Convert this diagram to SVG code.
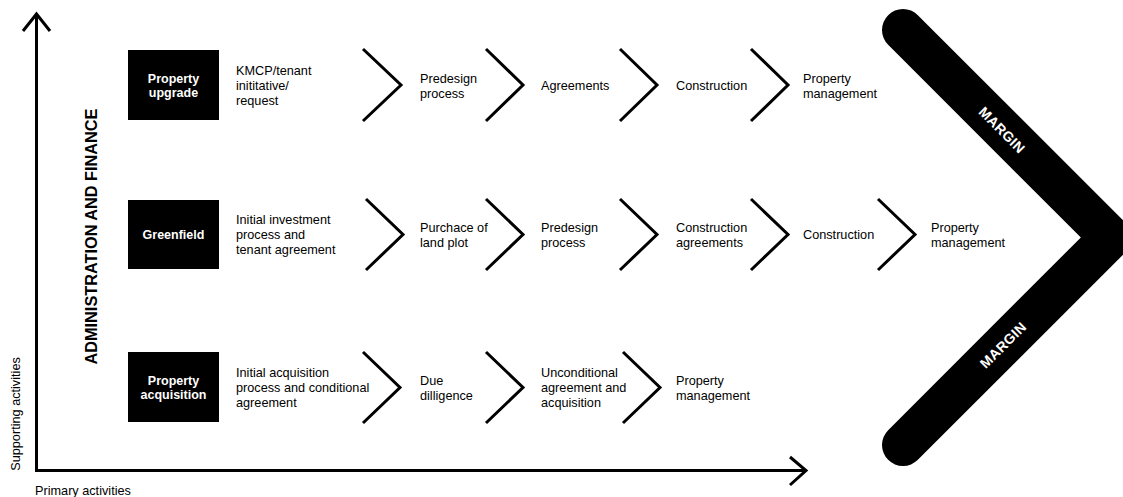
<svg xmlns="http://www.w3.org/2000/svg" width="1123" height="497" viewBox="0 0 1123 497">
<style>
.t{font-family:"Liberation Sans",Arial,sans-serif;font-size:12.7px;fill:#000}
.bt{font-family:"Liberation Sans",Arial,sans-serif;font-size:12.5px;font-weight:bold;fill:#fff;text-anchor:middle}
.box{fill:#000}
.chev{fill:none;stroke:#000;stroke-width:3}
.axis{fill:none;stroke:#000;stroke-width:3}
.mg{font-family:"Liberation Sans",Arial,sans-serif;font-size:14px;font-weight:bold;fill:#fff;text-anchor:middle;letter-spacing:0.3px}
</style>
<rect width="1123" height="497" fill="#fff"/>
<g id="axes">
<path class="axis" d="M36.5,15 V470.5 H804"/>
<path class="axis" d="M23,31 L36.5,14 L50,31"/>
<path class="axis" d="M790,457 L806,470.5 L790,485"/>
<text class="t" transform="translate(19.5,414) rotate(-90)" text-anchor="middle">Supporting activities</text>
<text class="t" x="35" y="495">Primary activities</text>
<text transform="translate(97,236.5) rotate(-90)" text-anchor="middle" font-family="Liberation Sans,Arial,sans-serif" font-size="16.3" font-weight="bold">ADMINISTRATION AND FINANCE</text>
</g>
<g id="margin">
<path d="M903,30 L1110.5,237.5 L903,445" fill="none" stroke="#000" stroke-width="42" stroke-linecap="round" stroke-linejoin="miter"/>
<text class="mg" transform="translate(1002,130) rotate(45)" y="5">MARGIN</text>
<text class="mg" transform="translate(1003,345) rotate(-45)" y="5">MARGIN</text>
</g>
<g id="connectors">
<path class="chev" d="M363,49 L401,85 L363,121"/>
<path class="chev" d="M486,49 L523,85 L486,121"/>
<path class="chev" d="M620,49 L657,85 L620,121"/>
<path class="chev" d="M751,49 L788,85 L751,121"/>
<path class="chev" d="M366,199 L403,234.5 L366,270"/>
<path class="chev" d="M486,199 L523,234.5 L486,270"/>
<path class="chev" d="M620,199 L657,234.5 L620,270"/>
<path class="chev" d="M751,199 L788,234.5 L751,270"/>
<path class="chev" d="M878,199 L915,234.5 L878,270"/>
<path class="chev" d="M363,352 L400,387.5 L363,423"/>
<path class="chev" d="M486,352 L523,387.5 L486,423"/>
<path class="chev" d="M623,352 L660,387.5 L623,423"/>
</g>
<g id="row-upgrade">
<g id="n-property-upgrade"><rect class="box" x="128" y="50" width="91" height="70"/><text class="bt" x="173.5" y="82.5">Property</text><text class="bt" x="173.5" y="97">upgrade</text></g>
<g id="n-kmcp"><text class="t" x="236" y="74.5">KMCP/tenant</text><text class="t" x="236" y="89.5">inititative/</text><text class="t" x="236" y="104.5">request</text></g>
<g id="n-predesign-1"><text class="t" x="420" y="82.5">Predesign</text><text class="t" x="420" y="97.5">process</text></g>
<g id="n-agreements"><text class="t" x="541" y="89.5">Agreements</text></g>
<g id="n-construction-1"><text class="t" x="676" y="89.5">Construction</text></g>
<g id="n-pm-1"><text class="t" x="803" y="82.5">Property</text><text class="t" x="803" y="97.5">management</text></g>
</g>
<g id="row-greenfield">
<g id="n-greenfield"><rect class="box" x="128" y="200" width="91" height="69"/><text class="bt" x="173.5" y="239">Greenfield</text></g>
<g id="n-initial-investment"><text class="t" x="236" y="223.5">Initial investment</text><text class="t" x="236" y="238.5">process and</text><text class="t" x="236" y="253.5">tenant agreement</text></g>
<g id="n-purchace"><text class="t" x="420" y="231.5">Purchace of</text><text class="t" x="420" y="246.5">land plot</text></g>
<g id="n-predesign-2"><text class="t" x="541" y="231.5">Predesign</text><text class="t" x="541" y="246.5">process</text></g>
<g id="n-construction-agreements"><text class="t" x="676" y="231.5">Construction</text><text class="t" x="676" y="246.5">agreements</text></g>
<g id="n-construction-2"><text class="t" x="803" y="239">Construction</text></g>
<g id="n-pm-2"><text class="t" x="931" y="231.5">Property</text><text class="t" x="931" y="246.5">management</text></g>
</g>
<g id="row-acquisition">
<g id="n-property-acquisition"><rect class="box" x="128" y="352" width="91" height="70"/><text class="bt" x="173.5" y="384.5">Property</text><text class="bt" x="173.5" y="399">acquisition</text></g>
<g id="n-initial-acquisition"><text class="t" x="236" y="376.5">Initial acquisition</text><text class="t" x="236" y="391.5">process and conditional</text><text class="t" x="236" y="406.5">agreement</text></g>
<g id="n-due-dilligence"><text class="t" x="420" y="384.5">Due</text><text class="t" x="420" y="399.5">dilligence</text></g>
<g id="n-unconditional"><text class="t" x="541" y="376.5">Unconditional</text><text class="t" x="541" y="391.5">agreement and</text><text class="t" x="541" y="406.5">acquisition</text></g>
<g id="n-pm-3"><text class="t" x="676" y="384.5">Property</text><text class="t" x="676" y="399.5">management</text></g>
</g>
</svg>
